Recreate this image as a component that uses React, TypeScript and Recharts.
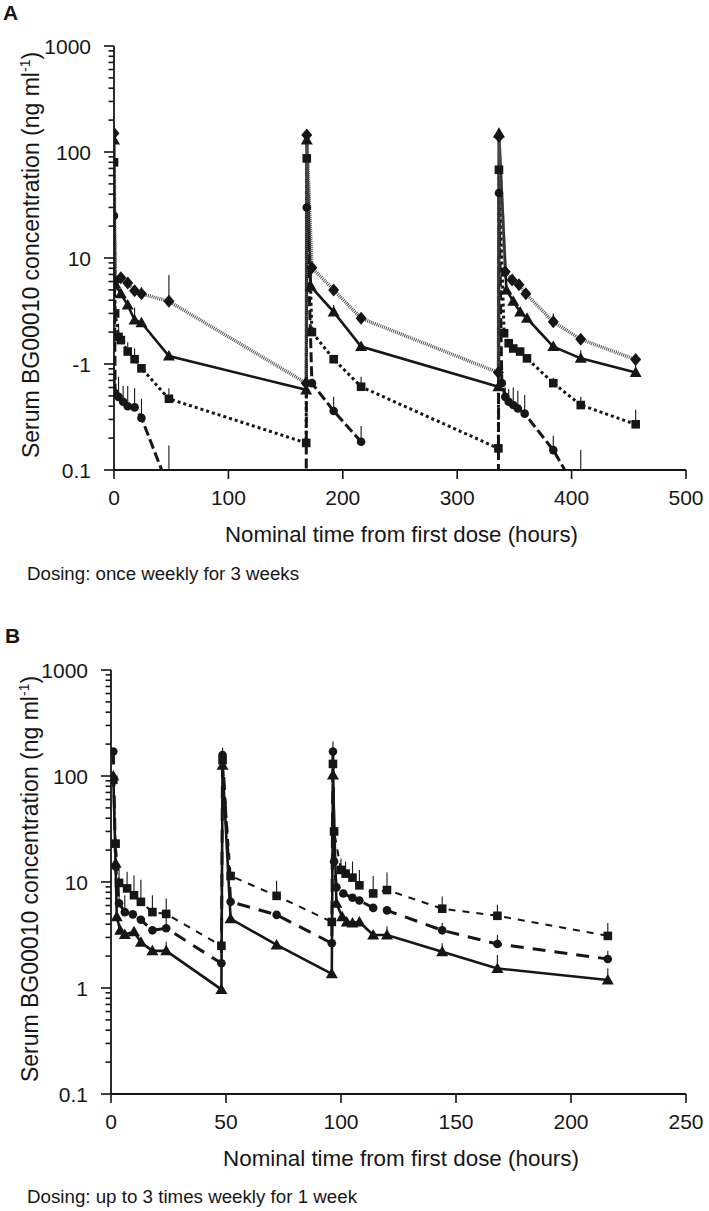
import React from 'react';
import { LineChart, Line, XAxis, YAxis, ErrorBar } from 'recharts';

// ---------- Panel A (once weekly for 3 weeks) ----------
const aXTicks = [0, 100, 200, 300, 400, 500];
const aYTicks = [0.1, 1, 10, 100, 1000];
const aYTickLabels = ['0.1', '-1', '10', '100', '1000'];

const aDiamondT = [0, 1, 6, 12, 18, 24, 48, 168, 168.5, 173, 192, 216, 336, 336.5, 342, 348, 354, 360, 384, 408, 456];
const aDiamondV = [150, 6.0, 6.5, 5.8, 4.9, 4.6, 3.9, 0.66, 145, 8.1, 5.0, 2.7, 0.83, 140, 7.4, 6.2, 5.6, 4.6, 2.5, 1.71, 1.1];
const aDiamondTop = [null, null, null, 6.6, null, 5.3, 6.9, null, null, null, null, null, null, null, null, null, null, null, 3.0, null, null];

const aTriT = [0, 1, 6, 12, 18, 24, 48, 168, 168.5, 172, 192, 216, 336, 336.5, 343, 349, 355, 361, 384, 408, 456];
const aTriV = [130, 5.7, 4.6, 3.6, 2.6, 2.45, 1.19, 0.57, 130, 5.4, 3.1, 1.46, 0.61, 150, 5.0, 3.9, 3.1, 2.7, 1.46, 1.13, 0.83];
const aTriTop = [null, null, null, null, 3.4, null, null, null, null, null, 3.6, null, null, null, null, null, null, null, null, 1.35, 1.0];

const aSqT = [0, 1, 4, 6, 12, 18, 24, 48, 168, 168.5, 173, 192, 216, 336, 336.5, 341, 345, 349, 355, 361, 384, 408, 456];
const aSqV = [80, 3.0, 1.8, 1.68, 1.31, 1.11, 0.91, 0.47, 0.18, 87, 2.0, 1.11, 0.61, 0.16, 68, 1.95, 1.57, 1.4, 1.31, 1.13, 0.66, 0.41, 0.27];
const aSqTop = [null, null, 2.4, null, 1.6, 1.4, null, 0.59, null, null, null, null, 0.76, null, null, null, null, null, null, null, 0.74, 0.49, 0.37];

const aCircT = [0, 1, 4, 8, 12, 18, 24, 48, 168, 168.5, 173, 192, 216, 260, 336, 336.5, 339, 342, 345, 349, 353, 359, 384, 408];
const aCircV = [25, 0.53, 0.49, 0.44, 0.40, 0.39, 0.31, 0.067, 0.05, 30, 0.66, 0.36, 0.185, null, 0.05, 41, 0.66, 0.49, 0.44, 0.41, 0.38, 0.34, 0.154, 0.055];
const aCircTop = [null, 0.8, 0.76, 0.62, 0.62, 0.59, 0.47, 0.17, null, null, null, 0.49, 0.26, null, null, null, null, 0.6, 0.58, 0.6, 0.56, 0.51, 0.21, 0.154];

// ---------- Panel B (up to 3 times weekly for 1 week) ----------
const bXTicks = [0, 50, 100, 150, 200, 250];
const bYTicks = [0.1, 1, 10, 100, 1000];
const bYTickLabels = ['0.1', '1', '10', '100', '1000'];

const bSqT = [1, 2, 3.5, 7, 10, 13, 18, 24, 48, 48.5, 52, 72, 96, 96.5, 97, 100, 102, 105, 108, 114, 120, 144, 168, 216];
const bSqV = [92, 23, 9.8, 8.7, 7.5, 6.5, 5.2, 5.0, 2.5, 141, 11.4, 7.4, 4.2, 130, 30, 13, 12, 11, 9.3, 7.8, 8.4, 5.6, 4.8, 3.1];
const bSqTop = [null, null, 13.5, 12.5, 11.5, 10.5, 7.5, 7.0, null, 185, null, 10.3, null, null, null, 16.7, 15.5, 15.6, 13, 11.4, 12.3, 7.3, 6.1, 4.1];

const bCircT = [1, 2, 3.5, 6, 9.5, 13, 18, 24, 48, 48.5, 52, 72, 96, 96.5, 97, 98, 101, 105, 108, 114, 120, 144, 168, 216];
const bCircV = [170, 14, 6.3, 5.2, 4.95, 4.4, 3.5, 3.66, 1.71, 158, 6.5, 4.9, 2.64, 170, 15.6, 8.9, 7.8, 7.1, 6.7, 5.7, 5.4, 3.5, 2.6, 1.88];
const bCircTop = [null, null, 9, 7.5, null, null, null, 4.6, null, null, null, null, null, 212, null, null, null, null, null, null, null, 4.1, 3.16, 2.24];

const bTriT = [1, 2, 2.5, 4, 6, 10, 13, 18, 24, 48, 48.5, 52, 72, 96, 96.5, 98, 100.5, 102.5, 105, 108, 114, 120, 144, 168, 216];
const bTriV = [100, 15, 4.7, 3.5, 3.2, 3.4, 2.7, 2.24, 2.24, 0.97, 126, 4.5, 2.55, 1.36, 102, 6.3, 4.7, 4.2, 4.1, 4.2, 3.16, 3.16, 2.2, 1.53, 1.19];
const bTriTop = [null, null, null, null, null, null, null, null, 2.73, null, null, null, null, null, null, null, null, null, null, null, null, 3.8, 2.65, 2.05, 1.53];

// ---------- helpers ----------
const Y_MIN = 0.1;
type Pt = { t: number; v: number | null; e: [number, number] };
const build = (ts: number[], vs: (number | null)[], tops: (number | null)[]): Pt[] =>
  ts.map((t, i) => {
    const v = vs[i];
    const top = tops[i];
    if (v == null || top == null) return { t, v, e: [0, 0] as [number, number] };
    const low = v < Y_MIN ? v - Y_MIN : 0;
    return { t, v, e: [low, top - v] as [number, number] };
  });

const FONT = '"Liberation Sans", Arial, Helvetica, sans-serif';
const INK = '#161616';

const minorTicks = (majors: number[]) => {
  const out: number[] = [];
  majors.forEach((m, i) => {
    out.push(m);
    if (i < majors.length - 1) for (let k = 2; k <= 9; k++) out.push(+(m * k).toPrecision(3));
  });
  return out;
};

// tick marks and labels drawn by the tick renderer at the coordinates Recharts
// hands over (x / y = axis line because tickSize and tickMargin are 0)
const makeYTick = (majors: number[], labels: string[]) => (p: any) => {
  const { payload, index } = p;
  const x = Number(p.x);
  const y = Number(p.y);
  const idx = majors.findIndex((m) => Math.abs(m - Number(payload.value)) < 1e-9);
  const major = idx >= 0;
  const len = major ? 10 : 5.5;
  return (
    <g key={`yt-${index}`}>
      <rect x={x - len} y={y - 0.8} width={len} height={1.6} fill={INK} />
      {major && (
        <text x={x - 23} y={y} dy="0.36em" textAnchor="end" fontSize={21} fontFamily={FONT} fill={INK}>
          {labels[idx]}
        </text>
      )}
    </g>
  );
};

const XTick = (p: any) => {
  const x = Number(p.x);
  const y = Number(p.y);
  return (
    <g>
      <rect x={x - 0.8} y={y} width={1.6} height={9} fill={INK} />
      <text x={x} y={y + 35} textAnchor="middle" fontSize={21} fontFamily={FONT} fill={INK}>
        {p.payload.value}
      </text>
    </g>
  );
};

const dotFor = (shape: string) => (p: any) => {
  const { cx, cy, index, payload } = p;
  if (cx == null || cy == null || payload == null || payload.v == null || isNaN(cy)) return <g key={index} />;
  if (shape === 'diamond')
    return <polygon key={index} points={`${cx},${cy - 6.5} ${cx + 5.5},${cy} ${cx},${cy + 6.5} ${cx - 5.5},${cy}`} fill={INK} />;
  if (shape === 'triangle')
    return <polygon key={index} points={`${cx},${cy - 6} ${cx + 6},${cy + 4.5} ${cx - 6},${cy + 4.5}`} fill={INK} />;
  if (shape === 'square') return <rect key={index} x={cx - 4.3} y={cy - 4.3} width={8.6} height={8.6} fill={INK} />;
  return <circle key={index} cx={cx} cy={cy} r={4.3} fill={INK} />;
};

const series = (
  key: string,
  data: Pt[],
  shape: string,
  stroke: string,
  width: number,
  dash?: string
) => (
  <Line
    key={key}
    data={data}
    dataKey="v"
    type="linear"
    stroke={stroke}
    strokeWidth={width}
    strokeDasharray={dash}
    dot={dotFor(shape)}
    activeDot={false}
    isAnimationActive={false}
    connectNulls={false}
  >
    <ErrorBar dataKey="e" direction="y" width={0} stroke={INK} strokeWidth={1.1} />
  </Line>
);

const aDiamond = build(aDiamondT, aDiamondV, aDiamondTop);
const aTri = build(aTriT, aTriV, aTriTop);
const aSq = build(aSqT, aSqV, aSqTop);
const aCirc = build(aCircT, aCircV, aCircTop);
const bSq = build(bSqT, bSqV, bSqTop);
const bCirc = build(bCircT, bCircV, bCircTop);
const bTri = build(bTriT, bTriV, bTriTop);

const YTitle = ({ cx, cy }: { cx: number; cy: number }) => (
  <text transform="rotate(-90)" x={-cy} y={cx} textAnchor="middle" fontSize={23} fontFamily={FONT} fill={INK}>
    Serum BG00010 concentration (ng ml
    <tspan dy={-9} fontSize={14}>-1</tspan>
    <tspan dy={9}>)</tspan>
  </text>
);

const axisLineStyle = { stroke: INK, strokeWidth: 1.8 };

export default function App() {
  return (
    <div style={{ position: 'absolute', left: 0, top: 0, width: 709, height: 1211, background: '#fff' }}>
      <div style={{ position: 'absolute', left: 0, top: 0 }}>
        <LineChart width={709} height={600} margin={{ top: 46, right: 23, bottom: 100, left: 0 }}>
          <XAxis
            type="number"
            dataKey="t"
            domain={[0, 500]}
            ticks={aXTicks}
            interval={0}
            allowDataOverflow
            height={30}
            tickSize={0}
            tickMargin={0}
            tick={XTick}
            axisLine={axisLineStyle}
            tickLine={false}
          />
          <YAxis
            type="number"
            scale="log"
            domain={[0.1, 1000]}
            ticks={minorTicks(aYTicks)}
            interval={0}
            allowDataOverflow
            width={114}
            tickSize={0}
            tickMargin={0}
            tick={makeYTick(aYTicks, aYTickLabels)}
            axisLine={axisLineStyle}
            tickLine={false}
          />
          {series('aCirc', aCirc, 'circle', INK, 3, '10 4')}
          {series('aSq', aSq, 'square', INK, 3, '3 3')}
          {series('aTri', aTri, 'triangle', INK, 2.6)}
          {series('aDiamond', aDiamond, 'diamond', '#555', 3.5, '1 1')}
        </LineChart>
      </div>
      <div style={{ position: 'absolute', left: 0, top: 600 }}>
        <LineChart width={709} height={611} margin={{ top: 70, right: 23, bottom: 87, left: 0 }}>
          <XAxis
            type="number"
            dataKey="t"
            domain={[0, 250]}
            ticks={bXTicks}
            interval={0}
            allowDataOverflow
            height={30}
            tickSize={0}
            tickMargin={0}
            tick={XTick}
            axisLine={axisLineStyle}
            tickLine={false}
          />
          <YAxis
            type="number"
            scale="log"
            domain={[0.1, 1000]}
            ticks={minorTicks(bYTicks)}
            interval={0}
            allowDataOverflow
            width={111}
            tickSize={0}
            tickMargin={0}
            tick={makeYTick(bYTicks, bYTickLabels)}
            axisLine={axisLineStyle}
            tickLine={false}
          />
          {series('bSq', bSq, 'square', INK, 2, '7 7')}
          {series('bCirc', bCirc, 'circle', INK, 3, '13 9')}
          {series('bTri', bTri, 'triangle', INK, 2.6)}
        </LineChart>
      </div>
      <svg
        width={709}
        height={1211}
        style={{ position: 'absolute', left: 0, top: 0, pointerEvents: 'none' }}
      >
        <text x={3} y={20} fontSize={21} fontWeight="bold" fontFamily={FONT} fill={INK}>A</text>
        <YTitle cx={39} cy={255} />
        <text x={225} y={542} fontSize={22} textLength={353} lengthAdjust="spacingAndGlyphs" fontFamily={FONT} fill={INK}>
          Nominal time from first dose (hours)
        </text>
        <text x={27} y={580} fontSize={17.5} textLength={272} lengthAdjust="spacingAndGlyphs" fontFamily={FONT} fill={INK}>
          Dosing: once weekly for 3 weeks
        </text>

        <text x={5} y={643} fontSize={21} fontWeight="bold" fontFamily={FONT} fill={INK}>B</text>
        <YTitle cx={38} cy={879} />
        <text x={223} y={1166} fontSize={22} textLength={356} lengthAdjust="spacingAndGlyphs" fontFamily={FONT} fill={INK}>
          Nominal time from first dose (hours)
        </text>
        <text x={27} y={1203} fontSize={17.5} textLength={330} lengthAdjust="spacingAndGlyphs" fontFamily={FONT} fill={INK}>
          Dosing: up to 3 times weekly for 1 week
        </text>
      </svg>
    </div>
  );
}
